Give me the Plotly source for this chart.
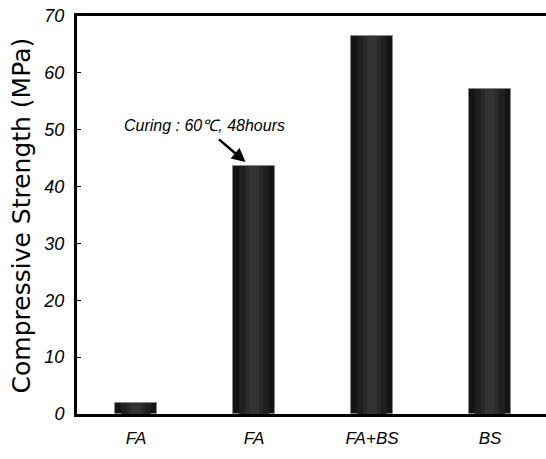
import plotly.graph_objects as go

categories = ["FA", "FA", "FA+BS", "BS"]
strength = [1.9, 43.7, 66.5, 57.2]
positions = [0, 1, 2, 3]
y_ticks = [0, 10, 20, 30, 40, 50, 60, 70]

FONT = "Liberation Sans, Arial, sans-serif"

fig = go.Figure()
# layered bars to imitate the cylindrical shading
layers = [(0.35, "#141414", "#8a8a8a", 1), (0.26, "#1f1f1f", None, 0),
          (0.16, "#2a2a2a", None, 0), (0.08, "#333333", None, 0)]
for w, c, lc, lw in layers:
    fig.add_trace(go.Bar(
        x=positions, y=strength, width=w,
        marker=dict(color=c, line=dict(color=lc or c, width=lw)),
        showlegend=False, hoverinfo="skip"))

fig.add_annotation(
    x=0.58, y=50.8, xref="x", yref="y",
    text="<i>Curing : 60℃, 48hours</i>", showarrow=False,
    font=dict(family=FONT, size=16, color="black"),
    xanchor="center", yanchor="middle")
fig.add_annotation(
    x=0.928, y=44.3, xref="x", yref="y", ax=-28, ay=-24,
    text="", showarrow=True, arrowhead=2, arrowsize=1.1,
    arrowwidth=2.5, arrowcolor="black")
fig.add_annotation(
    x=-0.117, y=0.5, xref="paper", yref="paper",
    text="Compressive Strength (MPa)", showarrow=False, textangle=-90,
    font=dict(family="DejaVu Sans, sans-serif", size=25, color="black"),
    xanchor="center", yanchor="middle")

# the plot area runs slightly past the right edge of the window, as in the
# reference (no right border visible)
fig.update_layout(
    width=552, height=459,
    margin=dict(l=77, r=0, t=16, b=45),
    plot_bgcolor="white", paper_bgcolor="white",
    barmode="overlay", bargap=0,
    font=dict(family=FONT, color="black"),
    xaxis=dict(range=[-0.5, 3.525], tickvals=positions,
               ticktext=[f"<i>{c}</i>" for c in categories],
               showline=True, linewidth=3, linecolor="black", mirror=True,
               ticks="", showgrid=False, zeroline=False, automargin=False,
               tickfont=dict(family=FONT, size=17),
               ticklabelstandoff=7),
    yaxis=dict(range=[0, 70], tickvals=y_ticks,
               ticktext=[f"<i>{v}</i>" for v in y_ticks],
               showline=True, linewidth=3, linecolor="black",
               ticks="inside", ticklen=4, tickwidth=1, tickcolor="black",
               showgrid=False, zeroline=False, automargin=False,
               tickfont=dict(family=FONT, size=18),
               ticklabelstandoff=6),
)

fig.write_html(
    "out.html",
    config={"displayModeBar": False},
    post_script="document.body.style.margin='0';document.body.style.overflow='hidden';")
